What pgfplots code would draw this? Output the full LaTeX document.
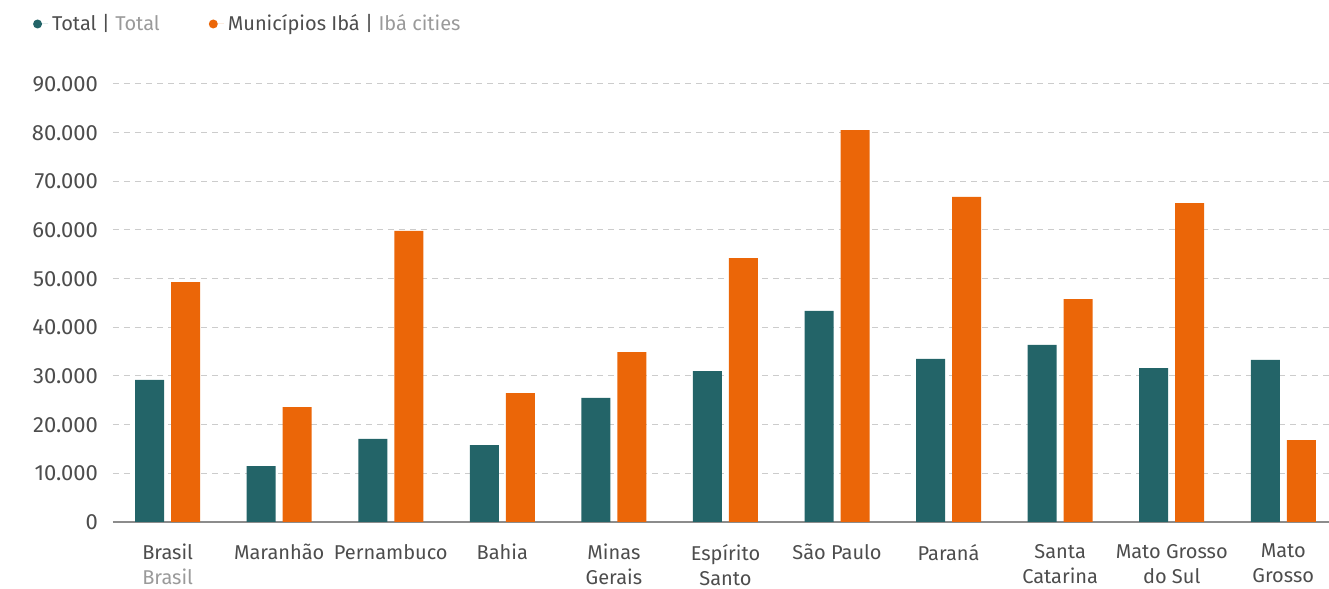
\documentclass[border=0pt]{standalone}
\usepackage{pgfplots}
\pgfplotsset{compat=1.18}
\usepackage{fontspec}
\setmainfont{Fira Sans}
\definecolor{teal1}{HTML}{236468}
\definecolor{orange1}{HTML}{EB6608}
\definecolor{txt}{HTML}{4D4D4D}
\definecolor{txt2}{HTML}{9A9A9A}
\definecolor{gridc}{HTML}{CCCCCC}
\definecolor{axc}{HTML}{8C8C8C}
\pgfplotstableread{
x total iba
0 29200 49300
1 11500 23600
2 17100 59800
3 15800 26500
4 25500 34900
5 31000 54200
6 43400 80500
7 33500 66800
8 36400 45800
9 31600 65500
10 33300 16800
}\datatab
\begin{document}
\begin{tikzpicture}
\path[use as bounding box] (0,0) rectangle (664.5pt,294.5pt);
\begin{axis}[
  at={(56.5pt,33.5pt)}, anchor=south west,
  scale only axis, width=608pt, height=219pt,
  ybar=3.5pt, bar width=14.5pt,
  ymin=0, ymax=90000, xmin=-0.49, xmax=10.41,
  enlargelimits=false,
  axis x line*=bottom, axis y line*=left,
  y axis line style={draw=none},
  x axis line style={draw=axc, line width=1pt},
  major tick length=0pt,
  xtick={0,...,10},
  xticklabels={{Brasil\\\textcolor{txt2}{Brasil}},Maranhão,Pernambuco,Bahia,{Minas\\Gerais},{Espírito\\Santo},São Paulo,Paraná,{Santa\\Catarina},{Mato Grosso\\do Sul},{Mato\\Grosso}},
  xticklabel style={align=center, font=\fontsize{10}{12.5}\selectfont, text=txt, anchor=north, yshift=-7.5pt},
  ytick={0,10000,...,90000},
  scaled y ticks=false,
  /pgf/number format/1000 sep={.},
  /pgf/number format/assume math mode=true,
  yticklabel style={font=\fontsize{11}{12}\selectfont, text=txt, xshift=-4pt},
  ymajorgrids, grid style={dash pattern=on 3pt off 2.5pt, color=gridc, line width=0.5pt},
  legend style={at={(-0.071,1.137)}, anchor=west, draw=none, fill=none,
    legend columns=2, font=\fontsize{10}{12}\selectfont, text=txt,
    /tikz/every even column/.append style={column sep=22.5pt}},
  legend image code/.code={\fill[#1] (0pt,0pt) circle (2.25pt); \path (0pt,0pt) -- (5.25pt,0pt);},
]
\addplot[fill=teal1, draw=none] table[x=x, y=total] {\datatab};
\addplot[fill=orange1, draw=none] table[x=x, y=iba] {\datatab};
\legend{Total | \textcolor{txt2}{Total}, Municípios Ibá | \textcolor{txt2}{Ibá cities}}
\end{axis}
\end{tikzpicture}
\end{document}
